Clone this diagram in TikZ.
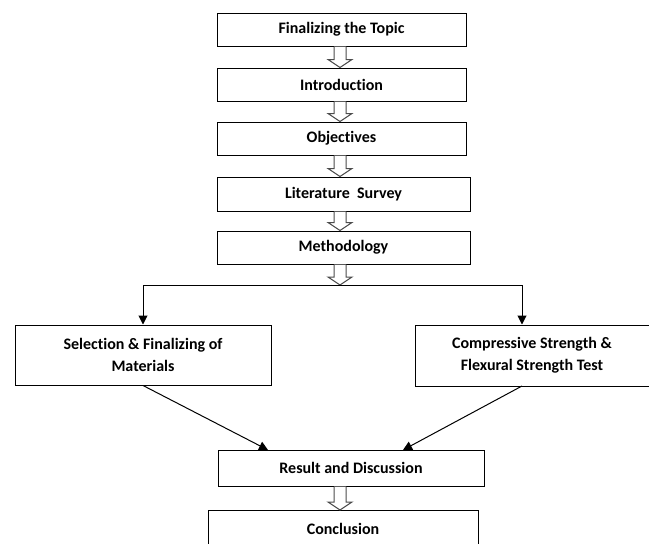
\documentclass[tikz,border=0pt]{standalone}
\usepackage{fontspec}
\setmainfont[Ligatures=NoCommon]{Carlito}
\usetikzlibrary{arrows.meta,calc}
\begin{document}
\begin{tikzpicture}[x=1pt,y=-1pt,
  box/.style={draw=black,line width=1pt,fill=white,inner sep=0pt,
    font=\fontsize{16}{22}\selectfont\bfseries,align=center},
  conn/.style={draw=black,line width=1pt,-{Triangle[width=9pt,length=9pt]}},
  hollow/.style={draw=black!70,line width=1pt,fill=white}
]
\useasboundingbox (0,0) rectangle (649,544);
% boxes
\node[box,minimum width=249pt,minimum height=33pt] (topic) at (341.5,29.5) {Finalizing the Topic};
\node[box,minimum width=249pt,minimum height=33pt] (intro) at (341.5,84.5) {Introduction};
\node[box,minimum width=249pt,minimum height=33pt] (obj) at (341.5,138.5) {Objectives};
\node[box,minimum width=253pt,minimum height=34pt] (lit) at (343.5,194) {Literature\ \ Survey};
\node[box,minimum width=253pt,minimum height=33pt] (meth) at (343.5,247.5) {Methodology};
\node[box,minimum width=256pt,minimum height=60pt] (sel) at (143,355) {Selection \& Finalizing of\\Materials};
\node[box,minimum width=234pt,minimum height=61pt] (comp) at (532,355.5) {Compressive Strength \&\\Flexural Strength Test};
\node[box,minimum width=266pt,minimum height=36pt] (res) at (351,468) {Result and Discussion};
\node[box,minimum width=270pt,minimum height=36pt,anchor=north] (conc) at (343,510) {Conclusion};
% hollow arrows
\newcommand\harrow[2]{%
  \filldraw[hollow] let \p1=(#1.south), \p2=(#2.north) in
    (340pt-6pt,\y1) -- (340pt-6pt,\y2+8pt) -- (340pt-12pt,\y2+8pt) -- (340pt,\y2)
    -- (340pt+12pt,\y2+8pt) -- (340pt+6pt,\y2+8pt) -- (340pt+6pt,\y1);}
\harrow{topic}{intro}
\harrow{intro}{obj}
\harrow{obj}{lit}
\harrow{lit}{meth}
\harrow{res}{conc}
% split
\coordinate (split) at (340,285);
\coordinate (splitL) at (143,285);
\coordinate (splitR) at (522,285);
\filldraw[hollow] let \p1=(meth.south), \p2=(split) in
    (340pt-6pt,\y1) -- (340pt-6pt,\y2+8pt) -- (340pt-12pt,\y2+8pt) -- (340pt,\y2)
    -- (340pt+12pt,\y2+8pt) -- (340pt+6pt,\y2+8pt) -- (340pt+6pt,\y1);
\draw[line width=1pt] (splitL) -- (splitR);
\draw[conn] (splitL) -- (sel.north);
\draw[conn] (splitR) -- (splitR |- comp.north);
% merge
\coordinate (compout) at (522,386);
\coordinate (resinL) at (268,450);
\coordinate (resinR) at (403,450);
\draw[conn] (sel.south) -- (resinL);
\draw[conn] (compout) -- (resinR);
\end{tikzpicture}
\end{document}
